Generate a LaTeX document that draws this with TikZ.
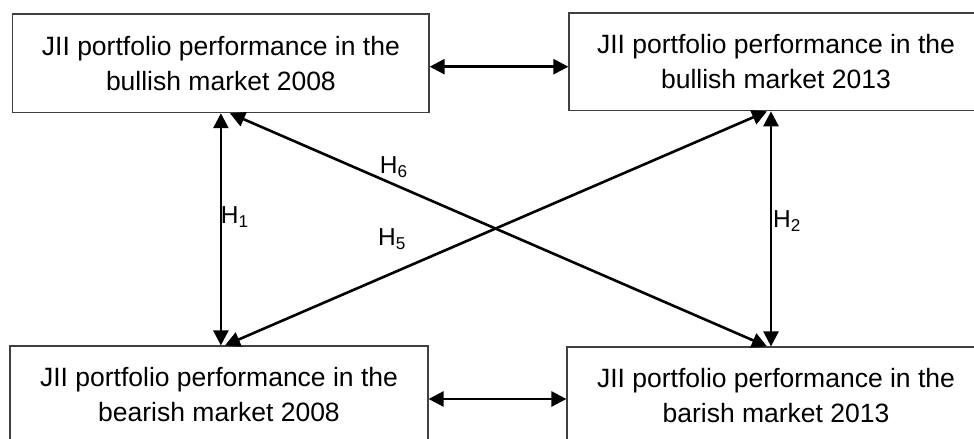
\documentclass[tikz,border=0pt]{standalone}
\usepackage{fontspec}
\setmainfont{Liberation Sans}
\usetikzlibrary{arrows.meta,calc}
\begin{document}
\begin{tikzpicture}[x=1bp,y=-1bp,
  box/.style={draw=black!75,line width=1.2bp,inner sep=0pt,align=center,
    font=\fontsize{26.5bp}{35bp}\selectfont},
  link/.style={line width=2.6bp,{Triangle[length=15bp,width=15bp]}-{Triangle[length=15bp,width=15bp]}},
  hlab/.style={anchor=base west,inner sep=0pt,font=\fontsize{24.5bp}{28bp}\selectfont}]
\useasboundingbox (0,0) rectangle (974,439);
\clip (0,0) rectangle (974,439);
\node[box,minimum width=416.3bp,minimum height=98.7bp] (tl) at (220.9,63.3)
  {JII portfolio performance in the\\bullish market 2008};
\node[box,minimum width=414bp,minimum height=97.7bp] (tr) at (776,61.9)
  {JII portfolio performance in the\\bullish market 2013};
\node[box,minimum width=418bp,minimum height=98bp] (bl) at (219,395)
  {JII portfolio performance in the\\bearish market 2008};
\node[box,minimum width=418bp,minimum height=98bp] (br) at (776,396)
  {JII portfolio performance in the\\barish market 2013};
\coordinate (ya) at (0,66.7);
\coordinate (yb) at (0,399);
\draw[link] (tl.east |- ya) -- (tr.west |- ya);
\draw[link] (bl.east |- yb) -- (br.west |- yb);
\draw[link] (tl.south) -- (tl.south |- bl.north);
\coordinate (r2) at ($(tr.south)+(-5,0)$);
\draw[link] (r2) -- (r2 |- br.north);
\draw[link] ($(tl.south)+(9,0)$) -- ($(br.north)+(-9,0)$);
\draw[link] ($(bl.north)+(6,0)$) -- ($(tr.south)+(-9,0)$);
\node[hlab] (h1) at (220.7,223.3) {H\textsubscript{1}};
\node[hlab] (h2) at (773,228) {H\textsubscript{2}};
\node[hlab] (h5) at (378,246) {H\textsubscript{5}};
\node[hlab] (h6) at (379.7,173.3) {H\textsubscript{6}};
\end{tikzpicture}
\end{document}
